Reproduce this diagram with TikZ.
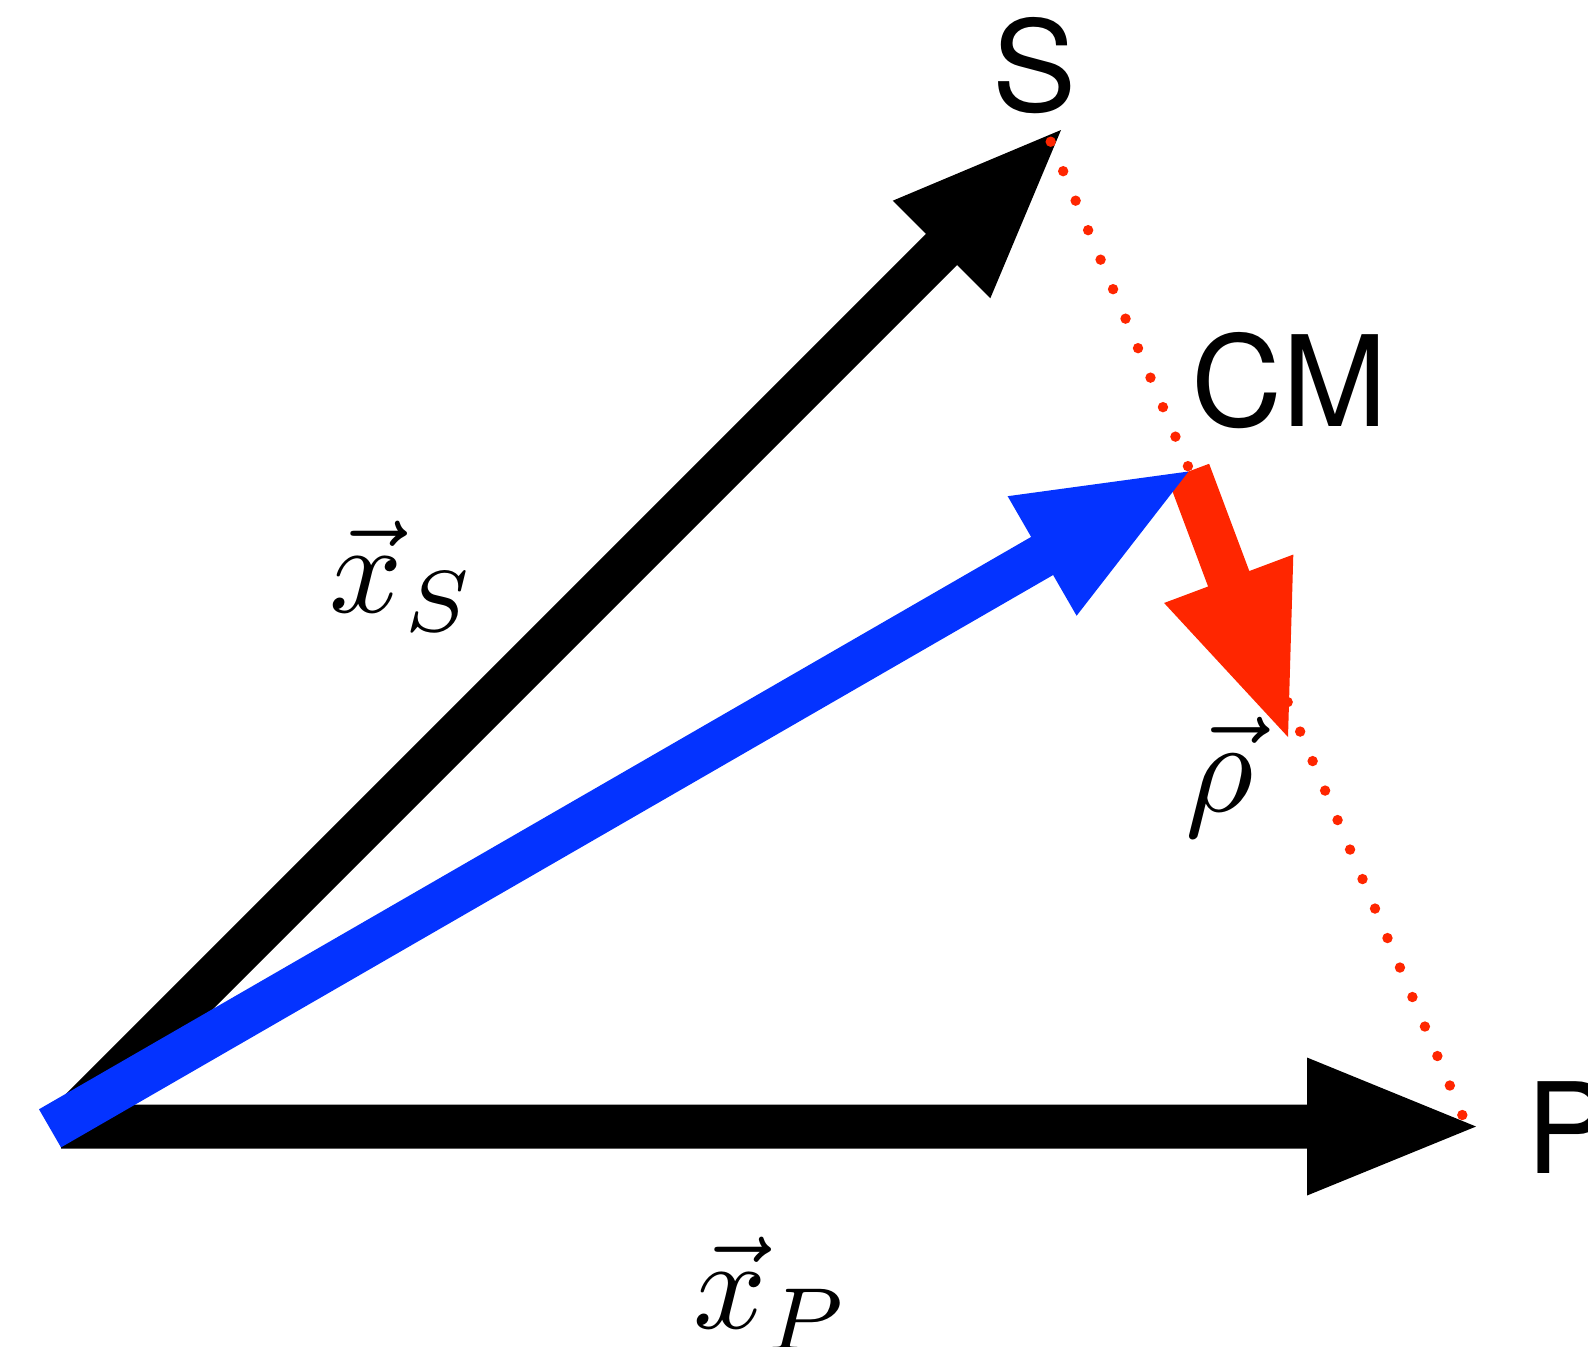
\documentclass[tikz,border=0pt]{standalone}
\usepackage{fontspec}
\usetikzlibrary{calc}
\newfontfamily\helv{TeX Gyre Heros}
\definecolor{cblue}{RGB}{4,51,255}
\definecolor{cred}{RGB}{255,38,0}
\newcommand\fatarrow[3]{%
  \path ($(#2)!84.5pt!(#1)$) coordinate (hb);
  \fill[#3] ($(#1)!11pt!90:(#2)$) -- ($(hb)!11pt!90:(#2)$) -- ($(hb)!34.5pt!90:(#2)$)
    -- (#2) -- ($(hb)!34.5pt!-90:(#2)$) -- ($(hb)!11pt!-90:(#2)$) -- ($(#1)!11pt!-90:(#2)$) -- cycle;}
\tikzset{
  sanslbl/.style={inner sep=0pt, anchor=base west, font=\fontsize{63pt}{68pt}\helv},
  mathlbl/.style={inner sep=0pt, anchor=base west},
  dot/.style={fill=cred}
}
\begin{document}
\begin{tikzpicture}[x=0.5pt,y=-0.5pt]
\clip (0,0) rectangle (1588,1346);
\coordinate (Os) at (63,1128);
\coordinate (Op) at (61,1126.5);
\coordinate (Ob) at (50,1128.3);
\coordinate (Stip) at (1061,130);
\coordinate (Ptip) at (1476,1126.5);
\coordinate (CM) at (1188.5,471.5);
\coordinate (Rtip) at (1288,737);
\coordinate (D1) at (1050.7,141.7);
\coordinate (D2) at (1462.3,1115);
% arrows
\fatarrow{Os}{Stip}{black}
\fatarrow{Op}{Ptip}{black}
\fatarrow{CM}{Rtip}{cred}
\fatarrow{Ob}{CM}{cblue}
% dotted line S -- P
\foreach \i in {0,...,33} \fill[dot] ($(D1)!\i/33!(D2)$) circle[radius=2.6pt];
% labels
\node[sanslbl] (S) at (992,111) {S};
\node[sanslbl] (CMl) at (1191,426.7) {CM};
\node[sanslbl] (P) at (1526,1173) {P};
\node[mathlbl] (xS) at (329,612) {\scalebox{6.4}{$\vec{x}$}};
\node[mathlbl] (xSs) at (404,631) {\scalebox{6.2}{$\scriptstyle S$}};
\node[mathlbl] (xP) at (693,1328) {\scalebox{6.4}{$\vec{x}$}};
\node[mathlbl] (xPs) at (765,1350) {\scalebox{6.4}{$\scriptstyle P$}};
\node[mathlbl] (rho) at (1185,811) {\scalebox{6.6}{$\vec{\rho}$}};
\end{tikzpicture}
\end{document}
